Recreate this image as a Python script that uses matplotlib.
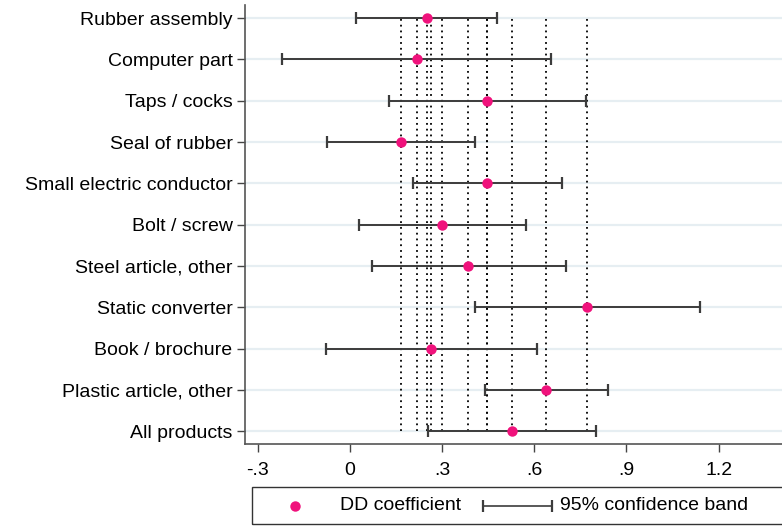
import matplotlib
matplotlib.use("Agg")
import matplotlib.pyplot as plt
from matplotlib.patches import Rectangle

plt.rcParams['font.family'] = ['Liberation Sans', 'DejaVu Sans']

# data (top to bottom as drawn)
products = ['Rubber assembly', 'Computer part', 'Taps / cocks', 'Seal of rubber',
            'Small electric conductor', 'Bolt / screw', 'Steel article, other',
            'Static converter', 'Book / brochure', 'Plastic article, other',
            'All products']
coef = [0.250, 0.218, 0.447, 0.167, 0.448, 0.300, 0.386, 0.772, 0.264, 0.637, 0.529]
ci_lo = [0.021, -0.222, 0.128, -0.073, 0.205, 0.029, 0.071, 0.407, -0.079, 0.439, 0.255]
ci_hi = [0.479, 0.655, 0.767, 0.408, 0.691, 0.572, 0.703, 1.141, 0.608, 0.840, 0.801]
xticks = [-0.3, 0, 0.3, 0.6, 0.9, 1.2]
xticklabels = ['-.3', '0', '.3', '.6', '.9', '1.2']

pink = '#f0127c'
bar_col = '#3c3c3c'
fs = 14

fig = plt.figure(figsize=(7.82, 5.27), dpi=100)
# plot region runs past the right edge of the picture, as in the reference
ax = fig.add_axes([245 / 782, 82.7 / 527, 578.4 / 782, 439.3 / 527])

n = len(products)
ypos = [n - 1 - i for i in range(n)]

# light horizontal grid
for y in ypos:
    ax.axhline(y, color='#e6eef2', lw=1.6, zorder=0)

# dotted reference lines at each coefficient
ax.vlines(coef, min(ypos), max(ypos), colors='black', linestyles=(0, (1, 2.2)),
          lw=1.3, zorder=1)

xerr = [[c - l for c, l in zip(coef, ci_lo)], [h - c for c, h in zip(coef, ci_hi)]]
ax.errorbar(coef, ypos, xerr=xerr, fmt='none', ecolor=bar_col, elinewidth=1.4,
            capsize=4, capthick=1.6, zorder=2)
ax.plot(coef, ypos, 'o', color=pink, ms=7.5, zorder=3, mec='none')

ax.set_xlim(-0.341, 1.541)
ax.set_ylim(-0.32, n - 1 + 0.32)
ax.set_yticks(ypos)
ax.set_yticklabels(products, fontsize=fs)
ax.set_xticks(xticks)
ax.set_xticklabels(xticklabels, fontsize=fs)
ax.tick_params(axis='y', length=6, width=1, color='#444444', pad=3)
ax.tick_params(axis='x', length=6, width=1, color='#444444', pad=7)
for s in ['top', 'right']:
    ax.spines[s].set_visible(False)
for s in ['left', 'bottom']:
    ax.spines[s].set_color('#555555')
    ax.spines[s].set_linewidth(1.2)

# legend box (drawn by hand, runs off the right edge like the reference)
lax = fig.add_axes([251.7 / 782, 3 / 527, 578 / 782, 36.7 / 527])
lax.set_xlim(0, 578)
lax.set_ylim(0, 36.7)
lax.axis('off')
lax.add_patch(Rectangle((0, 0), 578, 36.7, fill=False, ec='#333333', lw=1.0,
                        clip_on=False))
lax.plot([43.3], [18], 'o', color=pink, ms=7.5, mec='none')
lax.text(88, 18, 'DD coefficient', fontsize=fs, va='center', ha='left')
lax.errorbar([265.8], [18], xerr=[[34.2], [34.2]], fmt='none', ecolor=bar_col,
             elinewidth=1.2, capsize=4, capthick=1.6)
lax.text(308.5, 18, '95% confidence band', fontsize=fs, va='center', ha='left')

fig.savefig('out.png', dpi=100)
